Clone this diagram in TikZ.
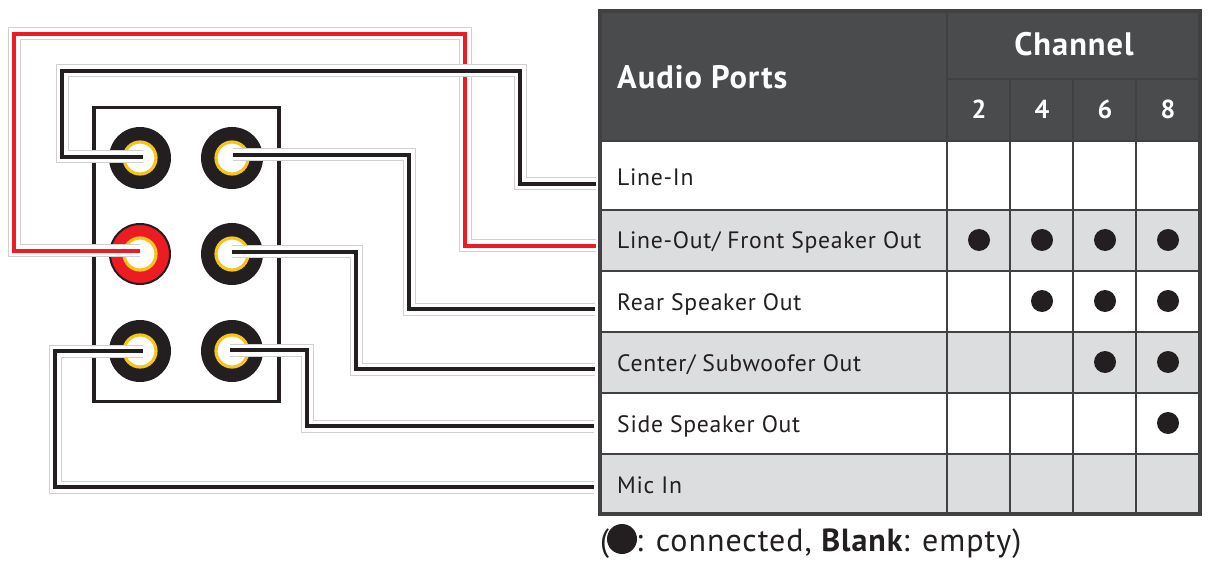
\documentclass[tikz,border=0pt]{standalone}
\usepackage{fontspec}
\setmainfont{PT Sans}[LetterSpace=3]
\newfontfamily\boldhead{PT Sans Bold}[LetterSpace=3]
\definecolor{ink}{HTML}{231F20}
\definecolor{headfill}{HTML}{4A4B4D}
\definecolor{rowgrey}{HTML}{DCDDDE}
\definecolor{rule}{HTML}{414042}
\definecolor{halo}{HTML}{D0D0D0}
\definecolor{wirered}{HTML}{ED1C24}
\definecolor{ringyellow}{HTML}{F5C518}
\tikzset{
  jack/.style={circle,fill=ink,minimum size=62pt,inner sep=0pt},
  redjack/.style={circle,fill=wirered,draw=ink,line width=2pt,minimum size=60pt,inner sep=0pt},
  eye/.style={circle,fill=white,draw=ringyellow,line width=3.2pt,minimum size=32pt,inner sep=0pt},
  port/.style={anchor=base west,inner sep=0pt,font=\fontsize{23.7}{24}\selectfont,text=ink},
  head/.style={anchor=base,inner sep=0pt,font=\boldhead\fontsize{#1}{#1}\selectfont,text=white},
  mark dot/.style={circle,fill=ink,minimum size=22pt,inner sep=0pt},
  wirehalo/.style={draw=halo,line width=13pt,line join=miter},
  wirewhite/.style={draw=white,line width=11pt,line join=miter},
  wireink/.style={draw=ink,line width=4.4pt,line join=miter},
  wirered/.style={draw=wirered,line width=4.4pt,line join=miter}
}
\newcommand{\wire}[2]{%
  \path[wirehalo] #2;
  \path[wirewhite] #2;
  \path[#1] #2;
}
\begin{document}
\begin{tikzpicture}[x=1pt,y=-1pt]
\useasboundingbox (0,0) rectangle (1213,564);
\fill[white] (0,0) rectangle (1213,564);
% speaker panel
\node[draw=ink,line width=3.5pt,minimum width=185pt,minimum height=294pt,inner sep=0pt] (panel) at (186.5,254.5) {};
\foreach \n/\x/\y in {jA/140/158,jB/232/158,jD/232/254,jE/140/351,jF/232/351}{
  \node[jack] (\n) at (\x,\y) {};
}
\node[redjack] (jC) at (140,254) {};
\foreach \n in {jA,jB,jC,jD,jE,jF}{ \node[eye] (e\n) at (\n) {}; }
% table
\fill[headfill] (600,11) rectangle (1200,141);
\foreach \a/\b in {210/271,332/393,454/514}{ \fill[rowgrey] (600,\a) rectangle (1200,\b); }
\foreach \y in {141,210,271,332,393,454}{ \draw[rule,line width=2pt] (600,\y) -- (1200,\y); }
\draw[rule,line width=2pt] (947,79) -- (1200,79);
\draw[rule,line width=2pt] (947,11) -- (947,514);
\foreach \x in {1010,1073,1136}{ \draw[rule,line width=2pt] (\x,79) -- (\x,514); }
\draw[rule,line width=3.5pt] (600,11) rectangle (1200,514);
\node[head=32.5,anchor=base west] (tAudio) at (617,89) {Audio Ports};
\node[head=32.5] (tChannel) at (1074,56) {Channel};
\foreach \x/\t in {979/2,1042/4,1105/6,1168/8}{ \node[head=26] (tc\t) at (\x,119) {\t}; }
\node[port] (pIn) at (617,186) {Line-In};
\node[port] (pOut) at (617,249) {Line-Out/ Front Speaker Out};
\node[port] (pRear) at (617,310) {Rear Speaker Out};
\node[port] (pCen) at (617,371) {Center/ Subwoofer Out};
\node[port] (pSide) at (617,432) {Side Speaker Out};
\node[port] (pMic) at (617,493) {Mic In};
\foreach \n/\x/\y in {a1/979/240,a2/1042/240,a3/1105/240,a4/1168/240,b2/1042/301,b3/1105/301,b4/1168/301,c3/1105/362,c4/1168/362,d4/1168/423}{
  \node[mark dot] (\n) at (\x,\y) {};
}
% wire ends at the table
\coordinate (tIn) at (596,184);
\coordinate (tOut) at (596,246);
\coordinate (tRear) at (595,309);
\coordinate (tCen) at (595,369);
\coordinate (tSide) at (594,426);
\coordinate (tMic) at (594,487);
\coordinate (sA) at (143,157);
\coordinate (sB) at (233,155);
\coordinate (sC) at (140,251);
\coordinate (sD) at (232,252);
\coordinate (sE) at (143,351);
\coordinate (sF) at (230,350);
% wires
\wire{wirered}{(sC) -- (14,251) -- (14,34) -- (465,34) -- (465,246) -- (tOut)}
\wire{wireink}{(sA) -- (62,157) -- (62,71) -- (520,71) -- (520,184) -- (tIn)}
\wire{wireink}{(sB) -- (409,155) -- (409,309) -- (tRear)}
\wire{wireink}{(sD) -- (356,252) -- (356,369) -- (tCen)}
\wire{wireink}{(sF) -- (307,350) -- (307,426) -- (tSide)}
\wire{wireink}{(sE) -- (55,351) -- (55,487) -- (tMic)}
% caption
\node[anchor=base west,inner sep=0pt,font=\fontsize{32}{33}\selectfont,text=ink] (capA) at (600,551) {(\hspace{27pt}: connected, {\boldhead Blank}: empty)};
\node[circle,fill=ink,minimum size=30pt,inner sep=0pt] (capDot) at (622,539) {};
\end{tikzpicture}
\end{document}
